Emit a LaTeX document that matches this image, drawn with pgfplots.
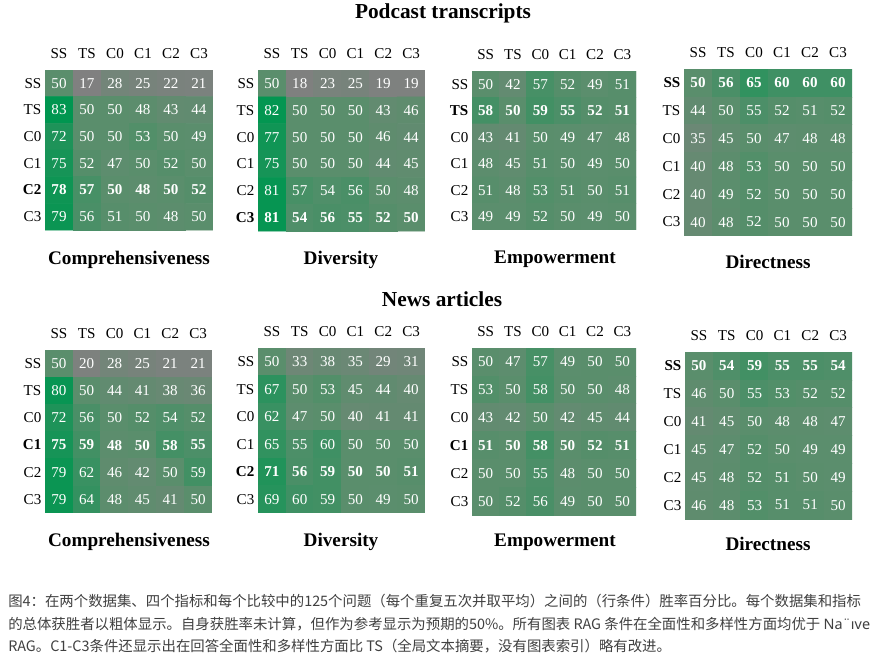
\documentclass[border=0pt]{standalone}
\usepackage{fontspec}
\setmainfont{Liberation Serif}
\newfontfamily\cjk{Noto Sans CJK SC}
\newfontfamily\nsans{Noto Sans}
\usepackage{pgfplots}
\pgfplotsset{compat=1.18}
\newlength\px
\setlength\px{0.75pt}
\pgfplotsset{
  /pgf/number format/assume math mode=true,
  colormap={gg}{rgb255=(128,128,128) rgb255=(90,142,108) rgb255=(0,150,80)},
  hm/.style={scale only axis, anchor=north west,
    xmin=-0.5, xmax=5.5, ymin=-0.5, ymax=5.5, y dir=reverse,
    enlargelimits=false,
    xtick={0,...,5}, ytick={0,...,5},
    xticklabels={SS,TS,C0,C1,C2,C3},
    xticklabel pos=upper,
    xticklabel style={yshift=7\px},
    yticklabel style={xshift=1\px},
    axis line style={draw=none}, major tick length=0pt,
    tick label style={font=\fontsize{11.3}{13}\selectfont, text=black},
    colormap name=gg, point meta min=17, point meta max=83,
  },
}
% #1 left, #2 top, #3 width, #4 height, #5 bold row, #6 yticklabels, #7 coordinates
\newcommand\panel[7]{%
  \begin{axis}[hm, at={(#1\px,-#2\px)}, width=#3\px, height=#4\px, yticklabels={#6}]
    \addplot[matrix plot*, mesh/cols=6, point meta=explicit,
      nodes near coords={\pgfmathtruncatemacro\rr{\coordindex/6}\ifnum\rr=#5\bfseries\fi\pgfmathprintnumber{\pgfplotspointmeta}},
      nodes near coords align=center,
      every node near coord/.append style={font=\fontsize{11.3}{13}\selectfont, text=white}]
      coordinates {#7};
  \end{axis}}
\newcommand\ttl[3]{\node[font=\bfseries\fontsize{14.4}{17}\selectfont] at (#1\px,-#2\px) {#3};}
\begin{document}
\begin{tikzpicture}
\fill[white] (0,0) rectangle (873\px,-656\px);
\path[use as bounding box] (0,0) rectangle (873\px,-656\px);
\node[font=\bfseries\fontsize{16}{19}\selectfont] at (443\px,-13\px) {Podcast transcripts};
\node[font=\bfseries\fontsize{16}{19}\selectfont] at (442\px,-299\px) {News articles};
% Podcast
\panel{45}{70}{168}{160}{4}{SS,TS,C0,C1,\textbf{C2},C3}{
(0,0)[50] (1,0)[17] (2,0)[28] (3,0)[25] (4,0)[22] (5,0)[21]
(0,1)[83] (1,1)[50] (2,1)[50] (3,1)[48] (4,1)[43] (5,1)[44]
(0,2)[72] (1,2)[50] (2,2)[50] (3,2)[53] (4,2)[50] (5,2)[49]
(0,3)[75] (1,3)[52] (2,3)[47] (3,3)[50] (4,3)[52] (5,3)[50]
(0,4)[78] (1,4)[57] (2,4)[50] (3,4)[48] (4,4)[50] (5,4)[52]
(0,5)[79] (1,5)[56] (2,5)[51] (3,5)[50] (4,5)[48] (5,5)[50]}
\panel{258}{70}{167}{161}{5}{SS,TS,C0,C1,C2,\textbf{C3}}{
(0,0)[50] (1,0)[18] (2,0)[23] (3,0)[25] (4,0)[19] (5,0)[19]
(0,1)[82] (1,1)[50] (2,1)[50] (3,1)[50] (4,1)[43] (5,1)[46]
(0,2)[77] (1,2)[50] (2,2)[50] (3,2)[50] (4,2)[46] (5,2)[44]
(0,3)[75] (1,3)[50] (2,3)[50] (3,3)[50] (4,3)[44] (5,3)[45]
(0,4)[81] (1,4)[57] (2,4)[54] (3,4)[56] (4,4)[50] (5,4)[48]
(0,5)[81] (1,5)[54] (2,5)[56] (3,5)[55] (4,5)[52] (5,5)[50]}
\panel{472}{71}{164}{159}{1}{SS,\textbf{TS},C0,C1,C2,C3}{
(0,0)[50] (1,0)[42] (2,0)[57] (3,0)[52] (4,0)[49] (5,0)[51]
(0,1)[58] (1,1)[50] (2,1)[59] (3,1)[55] (4,1)[52] (5,1)[51]
(0,2)[43] (1,2)[41] (2,2)[50] (3,2)[49] (4,2)[47] (5,2)[48]
(0,3)[48] (1,3)[45] (2,3)[51] (3,3)[50] (4,3)[49] (5,3)[50]
(0,4)[51] (1,4)[48] (2,4)[53] (3,4)[51] (4,4)[50] (5,4)[51]
(0,5)[49] (1,5)[49] (2,5)[52] (3,5)[50] (4,5)[49] (5,5)[50]}
\panel{684}{69}{168}{167}{0}{\textbf{SS},TS,C0,C1,C2,C3}{
(0,0)[50] (1,0)[56] (2,0)[65] (3,0)[60] (4,0)[60] (5,0)[60]
(0,1)[44] (1,1)[50] (2,1)[55] (3,1)[52] (4,1)[51] (5,1)[52]
(0,2)[35] (1,2)[45] (2,2)[50] (3,2)[47] (4,2)[48] (5,2)[48]
(0,3)[40] (1,3)[48] (2,3)[53] (3,3)[50] (4,3)[50] (5,3)[50]
(0,4)[40] (1,4)[49] (2,4)[52] (3,4)[50] (4,4)[50] (5,4)[50]
(0,5)[40] (1,5)[48] (2,5)[52] (3,5)[50] (4,5)[50] (5,5)[50]}
\ttl{129}{260}{Comprehensiveness}
\ttl{341}{260}{Diversity}
\ttl{555}{259}{Empowerment}
\ttl{768}{262}{Directness}
% News
\panel{45}{350}{167}{163}{3}{SS,TS,C0,\textbf{C1},C2,C3}{
(0,0)[50] (1,0)[20] (2,0)[28] (3,0)[25] (4,0)[21] (5,0)[21]
(0,1)[80] (1,1)[50] (2,1)[44] (3,1)[41] (4,1)[38] (5,1)[36]
(0,2)[72] (1,2)[56] (2,2)[50] (3,2)[52] (4,2)[54] (5,2)[52]
(0,3)[75] (1,3)[59] (2,3)[48] (3,3)[50] (4,3)[58] (5,3)[55]
(0,4)[79] (1,4)[62] (2,4)[46] (3,4)[42] (4,4)[50] (5,4)[59]
(0,5)[79] (1,5)[64] (2,5)[48] (3,5)[45] (4,5)[41] (5,5)[50]}
\panel{258}{348}{167}{165}{4}{SS,TS,C0,C1,\textbf{C2},C3}{
(0,0)[50] (1,0)[33] (2,0)[38] (3,0)[35] (4,0)[29] (5,0)[31]
(0,1)[67] (1,1)[50] (2,1)[53] (3,1)[45] (4,1)[44] (5,1)[40]
(0,2)[62] (1,2)[47] (2,2)[50] (3,2)[40] (4,2)[41] (5,2)[41]
(0,3)[65] (1,3)[55] (2,3)[60] (3,3)[50] (4,3)[50] (5,3)[50]
(0,4)[71] (1,4)[56] (2,4)[59] (3,4)[50] (4,4)[50] (5,4)[51]
(0,5)[69] (1,5)[60] (2,5)[59] (3,5)[50] (4,5)[49] (5,5)[50]}
\panel{472}{348}{164}{167}{3}{SS,TS,C0,\textbf{C1},C2,C3}{
(0,0)[50] (1,0)[47] (2,0)[57] (3,0)[49] (4,0)[50] (5,0)[50]
(0,1)[53] (1,1)[50] (2,1)[58] (3,1)[50] (4,1)[50] (5,1)[48]
(0,2)[43] (1,2)[42] (2,2)[50] (3,2)[42] (4,2)[45] (5,2)[44]
(0,3)[51] (1,3)[50] (2,3)[58] (3,3)[50] (4,3)[52] (5,3)[51]
(0,4)[50] (1,4)[50] (2,4)[55] (3,4)[48] (4,4)[50] (5,4)[50]
(0,5)[50] (1,5)[52] (2,5)[56] (3,5)[49] (4,5)[50] (5,5)[50]}
\panel{685}{352}{167}{167}{0}{\textbf{SS},TS,C0,C1,C2,C3}{
(0,0)[50] (1,0)[54] (2,0)[59] (3,0)[55] (4,0)[55] (5,0)[54]
(0,1)[46] (1,1)[50] (2,1)[55] (3,1)[53] (4,1)[52] (5,1)[52]
(0,2)[41] (1,2)[45] (2,2)[50] (3,2)[48] (4,2)[48] (5,2)[47]
(0,3)[45] (1,3)[47] (2,3)[52] (3,3)[50] (4,3)[49] (5,3)[49]
(0,4)[45] (1,4)[48] (2,4)[52] (3,4)[51] (4,4)[50] (5,4)[49]
(0,5)[46] (1,5)[48] (2,5)[53] (3,5)[51] (4,5)[51] (5,5)[50]}
\ttl{129}{542}{Comprehensiveness}
\ttl{341}{542}{Diversity}
\ttl{555}{542}{Empowerment}
\ttl{768}{544}{Directness}
% caption
\begin{scope}[every node/.style={anchor=west, inner sep=0pt, text=black!75, font=\cjk\fontsize{10.8}{13}\selectfont}]
\node at (8\px,-601\px) {图4：在两个数据集、四个指标和每个比较中的125个问题（每个重复五次并取平均）之间的（行条件）胜率百分比。每个数据集和指标};
\node at (8\px,-624\px) {的总体获胜者以粗体显示。自身获胜率未计算，但作为参考显示为预期的50\%。所有图表 RAG 条件在全面性和多样性方面均优于 {\nsans Na¨ıve}};
\node at (8\px,-646\px) {RAG。C1-C3条件还显示出在回答全面性和多样性方面比 TS（全局文本摘要，没有图表索引）略有改进。};
\end{scope}
\end{tikzpicture}
\end{document}
